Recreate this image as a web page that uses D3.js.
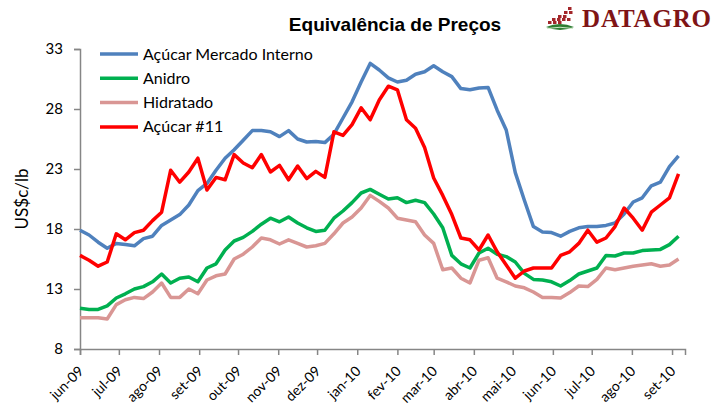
<!DOCTYPE html>
<html>
<head>
<meta charset="utf-8">
<script src="https://cdn.jsdelivr.net/npm/d3@7"></script>
<style>
  body { margin: 0; background: #fff; }
  text { font-family: Lato, "Open Sans", sans-serif; fill: #000; }
  .title { font-family: "Liberation Sans", Arial, sans-serif; font-weight: bold; font-size: 19px; }
  .logo { font-family: "Liberation Serif", serif; font-weight: bold; font-size: 25px; fill: #7f1416; }
  .axis path, .axis line { stroke: #868686; stroke-width: 1.5; }
</style>
</head>
<body>
<svg id="chart" width="717" height="405"></svg>
<script>
// weekly observations
const dates = [
  '2009-06-01','2009-06-08','2009-06-15','2009-06-22','2009-06-29','2009-07-06','2009-07-13','2009-07-20','2009-07-27',
  '2009-08-03','2009-08-10','2009-08-17','2009-08-24','2009-08-31','2009-09-07','2009-09-14','2009-09-21','2009-09-28',
  '2009-10-05','2009-10-12','2009-10-19','2009-10-26','2009-11-02','2009-11-09','2009-11-16','2009-11-23','2009-11-30',
  '2009-12-07','2009-12-14','2009-12-21','2009-12-28','2010-01-04','2010-01-11','2010-01-18','2010-01-25','2010-02-01',
  '2010-02-08','2010-02-15','2010-02-22','2010-03-01','2010-03-08','2010-03-15','2010-03-22','2010-03-29','2010-04-05',
  '2010-04-12','2010-04-19','2010-04-26','2010-05-03','2010-05-10','2010-05-17','2010-05-24','2010-05-31','2010-06-07',
  '2010-06-14','2010-06-21','2010-06-28','2010-07-05','2010-07-12','2010-07-19','2010-07-26','2010-08-02','2010-08-09',
  '2010-08-16','2010-08-23','2010-08-30','2010-09-06'
];

const mercadoInterno = [17.9, 17.5, 16.9, 16.4, 16.8, 16.7, 16.6, 17.2, 17.4, 18.3, 18.75, 19.2, 20.0, 21.2, 21.8, 22.9, 23.9,
  24.6, 25.4, 26.2, 26.2, 26.1, 25.7, 26.2, 25.5, 25.25, 25.3, 25.2, 25.9, 27.25, 28.6, 30.25, 31.8, 31.25, 30.6, 30.25,
  30.4, 30.9, 31.1, 31.6, 31.1, 30.7, 29.7, 29.6, 29.75, 29.8, 27.9, 26.25, 22.7, 20.4, 18.2, 17.75, 17.7, 17.4, 17.8,
  18.1, 18.2, 18.2, 18.3, 18.5, 19.25, 20.25, 20.6, 21.6, 21.9, 23.2, 24.1];

const anidro = [11.4, 11.3, 11.3, 11.6, 12.25, 12.6, 13.0, 13.2, 13.6, 14.25, 13.5, 13.9, 14.0, 13.6, 14.75, 15.1, 16.25,
  17.0, 17.3, 17.8, 18.4, 18.9, 18.6, 19.0, 18.5, 18.1, 17.8, 17.9, 18.9, 19.5, 20.2, 21.0, 21.3, 20.9, 20.5, 20.6,
  20.2, 20.4, 20.2, 19.25, 18.1, 15.8, 15.1, 14.75, 16.0, 16.4, 15.9, 15.7, 15.25, 14.3, 13.8, 13.75, 13.6, 13.25, 13.7,
  14.25, 14.5, 14.75, 15.8, 15.75, 16.0, 16.0, 16.2, 16.25, 16.3, 16.7, 17.4];

const hidratado = [10.6, 10.6, 10.6, 10.5, 11.7, 12.1, 12.3, 12.2, 12.75, 13.5, 12.3, 12.3, 13.0, 12.6, 13.75, 14.1, 14.25,
  15.5, 15.9, 16.5, 17.25, 17.1, 16.75, 17.1, 16.8, 16.5, 16.6, 16.8, 17.6, 18.5, 19.0, 19.75, 20.8, 20.3, 19.75, 18.9,
  18.75, 18.6, 17.5, 16.8, 14.6, 14.75, 13.9, 13.5, 15.4, 15.6, 13.9, 13.6, 13.25, 13.1, 12.75, 12.3, 12.3, 12.25, 12.7,
  13.25, 13.2, 13.8, 14.75, 14.6, 14.75, 14.9, 15.0, 15.1, 14.9, 15.0, 15.5];

const acucar11 = [15.8, 15.4, 14.9, 15.25, 17.6, 17.1, 17.7, 17.9, 18.7, 19.4, 22.9, 21.9, 22.75, 23.9, 21.25, 22.3, 22.1,
  24.2, 23.5, 23.1, 24.2, 22.75, 23.3, 22.1, 23.25, 22.2, 22.8, 22.3, 26.1, 25.8, 26.7, 28.1, 27.1, 28.75, 29.9, 29.6,
  27.1, 26.4, 24.8, 22.25, 20.8, 19.2, 17.25, 17.1, 16.25, 17.5, 16.1, 15.0, 13.9, 14.5, 14.75, 14.75, 14.75, 15.8, 16.1,
  16.8, 17.9, 16.9, 17.25, 18.2, 19.75, 18.9, 17.9, 19.4, 20.0, 20.6, 22.6];

const seriesNames = ['Açúcar Mercado Interno', 'Anidro', 'Hidratado', 'Açúcar #11'];
const seriesColors = ['#4f81bd', '#00b050', '#d99694', '#ff0000'];
const yTicks = [8, 13, 18, 23, 28, 33];
const monthNames = ['jan', 'fev', 'mar', 'abr', 'mai', 'jun', 'jul', 'ago', 'set', 'out', 'nov', 'dez'];

const svg = d3.select('#chart');
const parse = d3.timeParse('%Y-%m-%d');
const days = dates.map(parse);

const plotLeft = 80, plotRight = 685, plotTop = 49, plotBottom = 349;

const x = d3.scaleTime()
  .domain([new Date(2009, 5, 1), new Date(2010, 8, 11)])
  .range([plotLeft, plotRight]);

const y = d3.scaleLinear()
  .domain([8, 33])
  .range([plotBottom, plotTop]);

// title + logo
svg.append('text')
  .attr('class', 'title')
  .attr('x', 395)
  .attr('y', 31)
  .attr('text-anchor', 'middle')
  .text('Equivalência de Preços');

const logo = svg.append('g').attr('transform', 'translate(546, 7)');
const dots = [[22, 0], [18, 4], [23, 4], [12, 8], [17, 8], [6, 11], [11, 11], [16, 11], [21, 11], [2, 14], [7, 14], [12, 14]];
logo.selectAll('rect')
  .data(dots)
  .enter()
  .append('rect')
  .attr('x', d => d[0])
  .attr('y', d => d[1])
  .attr('width', 3.5)
  .attr('height', 3)
  .attr('fill', '#a3262a');
logo.append('path')
  .attr('d', 'M0,20 Q14,14 28,20 Q14,26 0,20 Z')
  .attr('fill', '#2e7d32');
logo.append('path')
  .attr('d', 'M1,21.5 Q14,19 27,21.5')
  .attr('fill', 'none')
  .attr('stroke', '#cfe8c8')
  .attr('stroke-width', 1);
svg.append('text')
  .attr('class', 'logo')
  .attr('x', 582)
  .attr('y', 27)
  .attr('textLength', 129)
  .text('DATAGRO');

// axes
const yAxis = svg.append('g')
  .attr('class', 'axis')
  .attr('transform', `translate(${plotLeft},0)`)
  .call(d3.axisLeft(y).tickValues(yTicks).tickSize(6).tickPadding(11));
yAxis.selectAll('text').attr('font-size', 15).attr('font-family', 'Lato');

const monthTicks = d3.timeMonth.range(new Date(2009, 5, 1), new Date(2010, 8, 2));
const xAxis = svg.append('g')
  .attr('class', 'axis')
  .attr('transform', `translate(0,${plotBottom})`)
  .call(d3.axisBottom(x)
    .tickValues(monthTicks)
    .tickSize(6)
    .tickFormat(d => `${monthNames[d.getMonth()]}-${d3.timeFormat('%y')(d)}`));
xAxis.selectAll('text')
  .attr('font-size', 14)
  .attr('font-family', 'Lato')
  .attr('text-anchor', 'end')
  .attr('x', 0)
  .attr('y', 0)
  .attr('dy', null)
  .attr('transform', 'translate(4,23) rotate(-45)');

svg.append('text')
  .attr('transform', 'translate(28,199) rotate(-90)')
  .attr('text-anchor', 'middle')
  .attr('font-size', 17)
  .text('US$c/lb');

// lines
const allSeries = [mercadoInterno, anidro, hidratado, acucar11];
const line = d3.line()
  .x((d, i) => x(days[i]))
  .y(d => y(d));

// draw order: pink, green, blue, red on top
[2, 1, 0, 3].forEach(k => {
  svg.append('path')
    .datum(allSeries[k])
    .attr('fill', 'none')
    .attr('stroke', seriesColors[k])
    .attr('stroke-width', 3.5)
    .attr('stroke-linejoin', 'round')
    .attr('d', line);
});

// legend
const legend = svg.append('g');
seriesNames.forEach((name, i) => {
  const ly = 54 + i * 24.3;
  legend.append('line')
    .attr('x1', 100).attr('x2', 138)
    .attr('y1', ly).attr('y2', ly)
    .attr('stroke', seriesColors[i])
    .attr('stroke-width', 3.5);
  legend.append('text')
    .attr('x', 143)
    .attr('y', ly + 5.5)
    .attr('font-size', 16)
    .text(name);
});
</script>
</body>
</html>
